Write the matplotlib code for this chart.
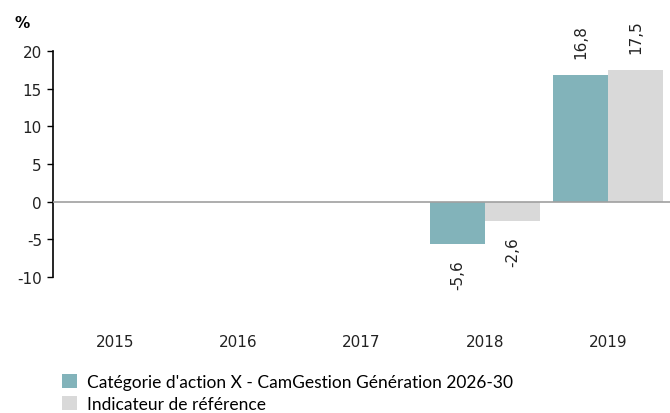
import matplotlib
matplotlib.use("Agg")
import matplotlib.pyplot as plt
import numpy as np
from matplotlib.patches import Patch

years = ["2015", "2016", "2017", "2018", "2019"]
fund = [None, None, None, -5.6, 16.8]
benchmark = [None, None, None, -2.6, 17.5]
fund_label = "Catégorie d'action X - CamGestion Génération 2026-30"
bench_label = "Indicateur de référence"
yticks = [-10, -5, 0, 5, 10, 15, 20]

teal = "#82B3BA"
grey = "#D9D9D9"

plt.rcParams['font.family'] = ['DejaVu Sans']
fig = plt.figure(figsize=(6.7, 4.14), dpi=100)
ax = fig.add_axes([53/670, 136/414, 617/670, 226/414])

x = np.arange(len(years))
w = 0.446


def lab(v):
    return f"{v:.1f}".replace(".", ",")


for i, (f, b) in enumerate(zip(fund, benchmark)):
    for val, dx, col in ((f, -w/2, teal), (b, w/2, grey)):
        if val is None:
            continue
        ax.bar(x[i] + dx, val, width=w, color=col, zorder=2)
        off = 2.3 if val >= 0 else -2.0
        ax.text(x[i] + dx, val + off, lab(val), rotation=90,
                ha="center", va="bottom" if val >= 0 else "top",
                fontsize=11, color="#222222")

ax.axhline(0, color="#A0A0A0", lw=1.2, zorder=3)
ax.set_xlim(-0.5, len(years) - 0.5)
ax.set_ylim(-10, 20)
ax.set_yticks(yticks)
ax.set_yticklabels([str(t) for t in yticks], fontsize=11, color="#222222")
ax.set_xticks(x)
ax.set_xticklabels(years, fontsize=11, color="#222222", family="DejaVu Sans")
ax.tick_params(axis="x", length=0, pad=41)
ax.tick_params(axis="y", length=4, width=1, direction="out", pad=4)
for s in ["top", "right", "bottom"]:
    ax.spines[s].set_visible(False)
ax.spines["left"].set_color("black")
ax.spines["left"].set_linewidth(1.2)

fig.text(22/670, 1 - 23/414, "%", fontsize=11, fontweight="bold", ha="center", va="center")

handles = [Patch(facecolor=teal, edgecolor="none"), Patch(facecolor=grey, edgecolor="none")]
fig.legend(handles, [fund_label, bench_label], loc="upper left",
           bbox_to_anchor=(62/670, 1 - 375/414), frameon=False,
           handlelength=0.85, handleheight=0.85, handletextpad=0.6, labelspacing=0.35,
           borderaxespad=0, borderpad=0, prop={"family": "Lato", "size": 12.5})

fig.savefig("out.png", dpi=100)
